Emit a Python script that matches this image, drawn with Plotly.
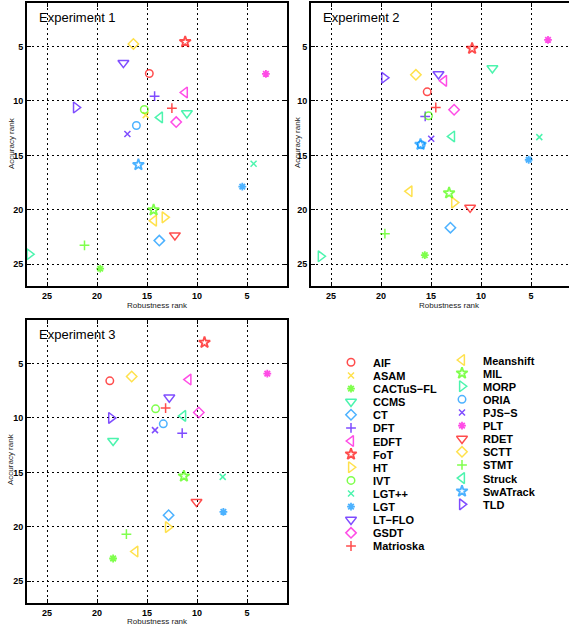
import plotly.graph_objects as go

W, H = 569, 632

trackers = ["AIF", "ASAM", "CACTuS\u2212FL", "CCMS", "CT", "DFT", "EDFT", "FoT", "HT", "IVT",
            "LGT++", "LGT", "LT\u2212FLO", "GSDT", "Matrioska", "Meanshift", "MIL", "MORP",
            "ORIA", "PJS\u2212S", "PLT", "RDET", "SCTT", "STMT", "Struck", "SwATrack", "TLD"]

# Experiment 1 (robustness rank, accuracy rank)
rob1 = [14.77, 15.13, 19.68, 11.01, 13.77, 14.24, 11.21, 11.18, 13.24, 15.27,
        4.34, 5.47, 17.36, 12.08, 12.51, 14.30, 14.34, 26.76,
        16.06, 16.96, 3.11, 12.21, 16.36, 21.25, 13.70, 15.86, 22.11]
acc1 = [7.48, 11.30, 25.40, 11.12, 22.83, 9.56, 9.22, 4.57, 20.69, 10.78,
        15.76, 17.87, 6.50, 11.94, 10.66, 21.00, 20.02, 24.08,
        12.25, 13.04, 7.51, 22.34, 4.76, 23.26, 11.51, 15.86, 10.60]

# Experiment 2
rob2 = [15.38, None, 15.62, 8.86, 13.06, 15.58, 13.69, 10.89, 12.69, 15.25,
        4.17, 5.23, 14.25, 12.69, 14.52, 17.15, 13.19, 26.03,
        15.98, 14.98, 3.30, 11.09, 16.51, 19.61, 12.89, 16.05, 19.68]
acc2 = [9.16, None, 24.17, 6.99, 21.64, 11.42, 8.15, 5.18, 19.34, 11.36,
        13.32, 15.40, 7.54, 10.81, 10.60, 18.30, 18.46, 24.27,
        14.02, 13.47, 4.39, 19.80, 7.60, 22.19, 13.26, 14.00, 7.87]

# Experiment 3
rob3 = [18.72, None, 18.39, 18.39, 12.84, 11.48, 10.85, 9.25, 12.91, 14.14,
        7.43, 7.36, 12.77, 9.82, 13.14, 16.16, 11.31, None,
        13.37, 14.20, 2.97, 10.05, 16.53, 17.06, 11.38, None, 18.59]
acc3 = [6.59, None, 22.91, 12.10, 18.93, 11.40, 6.47, 3.07, 20.03, 9.16,
        15.41, 18.62, 8.12, 9.50, 9.09, 22.27, 15.35, None,
        10.54, 11.12, 5.92, 17.71, 6.19, 20.68, 9.81, None, 10.00]

tick_vals = [5, 10, 15, 20, 25]
panel_titles = ["Experiment 1", "Experiment 2", "Experiment 3"]

palette = ["#FF0000", "#FFD400", "#49FF00", "#00F08C", "#0092FF", "#4900FF", "#FF00DB"]
symbols = ["circle-open", "x-thin-open", "asterisk-open", "triangle-down-open", "diamond-open",
           "cross-thin-open", "triangle-left-open", "star-open", "triangle-right-open"]
sym_size = {"circle-open": 7.5, "x-thin-open": 6, "asterisk-open": 6.5, "triangle-down-open": 9.5,
            "diamond-open": 8, "cross-thin-open": 7, "triangle-left-open": 9.5,
            "star-open": 8.5, "triangle-right-open": 9.5}
sym_lw = {"star-open": 1.8, "asterisk-open": 1.8}

colors = [palette[i % 7] for i in range(len(trackers))]
syms = [symbols[i % 9] for i in range(len(trackers))]
sizes = [sym_size[s] for s in syms]
lws = [sym_lw.get(s, 1.5) for s in syms]

FONT = "Liberation Sans, Arial, sans-serif"

fig = go.Figure()

panels = [(rob1, acc1), (rob2, acc2), (rob3, acc3)]
for k, (rx, ay) in enumerate(panels):
    ax = "" if k == 0 else str(k + 1)
    fig.add_trace(go.Scatter(
        x=rx, y=ay, mode="markers", text=trackers, hoverinfo="text",
        xaxis="x" + ax, yaxis="y" + ax, showlegend=False,
        marker=dict(symbol=syms, size=sizes, color=colors,
                    line=dict(color=colors, width=lws))))

def px_x(p):
    return p / W

def px_y(p):
    return 1 - p / H

# panel pixel boxes: (left, right, top, bottom), x range
boxes = [(27, 287, 3, 286, [27, 1]),
         (311, 569, 3, 286, [27, 1.2]),
         (27, 287, 320, 603, [27, 1])]

axis_common = dict(
    showgrid=True, gridcolor="black", griddash="2px,3px", gridwidth=1,
    zeroline=False, showline=True, linecolor="black", linewidth=2,
    ticks="inside", ticklen=4, tickcolor="black", tickwidth=1,
    tickvals=tick_vals, ticktext=[str(v) for v in tick_vals],
    tickfont=dict(family=FONT, size=9, color="black", weight="bold"),
)

for k, (l, r, t, b, xr) in enumerate(boxes):
    sfx = "" if k == 0 else str(k + 1)
    fig.update_layout(**{
        "xaxis" + sfx: dict(axis_common, domain=[px_x(l), px_x(r)], range=xr,
                            anchor="y" + sfx, mirror="allticks"),
        "yaxis" + sfx: dict(axis_common, domain=[px_y(b), px_y(t)], range=[27, 1],
                            anchor="x" + sfx, mirror=("allticks" if k != 1 else False)),
    })

annotations = []
title_pos = [(37, 17), (321, 17), (37, 334)]
xlab_pos = [(157, 305), (449, 305), (157, 621)]
ylab_pos = [(11, 143), (298, 142), (10, 459)]
for k in range(3):
    annotations.append(dict(text=panel_titles[k], x=px_x(title_pos[k][0]), y=px_y(title_pos[k][1]),
                            xref="paper", yref="paper", xanchor="left", yanchor="middle",
                            showarrow=False, font=dict(family=FONT, size=13, color="black")))
    annotations.append(dict(text="Robustness rank", x=px_x(xlab_pos[k][0]), y=px_y(xlab_pos[k][1]),
                            xref="paper", yref="paper", xanchor="center", yanchor="middle",
                            showarrow=False, font=dict(family=FONT, size=8, color="#222")))
    annotations.append(dict(text="Accuracy rank", x=px_x(ylab_pos[k][0]), y=px_y(ylab_pos[k][1]),
                            xref="paper", yref="paper", xanchor="center", yanchor="middle",
                            textangle=-90, showarrow=False,
                            font=dict(family=FONT, size=8, color="#222")))

# Legend drawn in a pixel-coordinate overlay axis
n1 = 15
leg_x, leg_y = [], []
for i in range(len(trackers)):
    if i < n1:
        mx, my = 351, 362.3 + 13.12 * i
        tx = 371
    else:
        mx, my = 462, 360 + 13.12 * (i - n1)
        tx = 481
    leg_x.append(mx)
    leg_y.append(my)
    annotations.append(dict(text=trackers[i], x=tx, y=my + 0.5, xref="x4", yref="y4",
                            xanchor="left", yanchor="middle", showarrow=False,
                            font=dict(family=FONT, size=11, color="black", weight="bold")))

fig.add_trace(go.Scatter(
    x=leg_x, y=leg_y, mode="markers", xaxis="x4", yaxis="y4", showlegend=False,
    hoverinfo="skip",
    marker=dict(symbol=syms, size=sizes, color=colors, line=dict(color=colors, width=lws))))

fig.update_layout(
    xaxis4=dict(domain=[0, 1], range=[0, W], visible=False, anchor="y4", fixedrange=True),
    yaxis4=dict(domain=[0, 1], range=[H, 0], visible=False, anchor="x4", fixedrange=True),
)

fig.update_layout(
    width=W, height=H, margin=dict(l=0, r=0, t=0, b=0),
    paper_bgcolor="white", plot_bgcolor="rgba(0,0,0,0)",
    showlegend=False, annotations=annotations,
    font=dict(family=FONT),
)

fig.write_html("out.html")
